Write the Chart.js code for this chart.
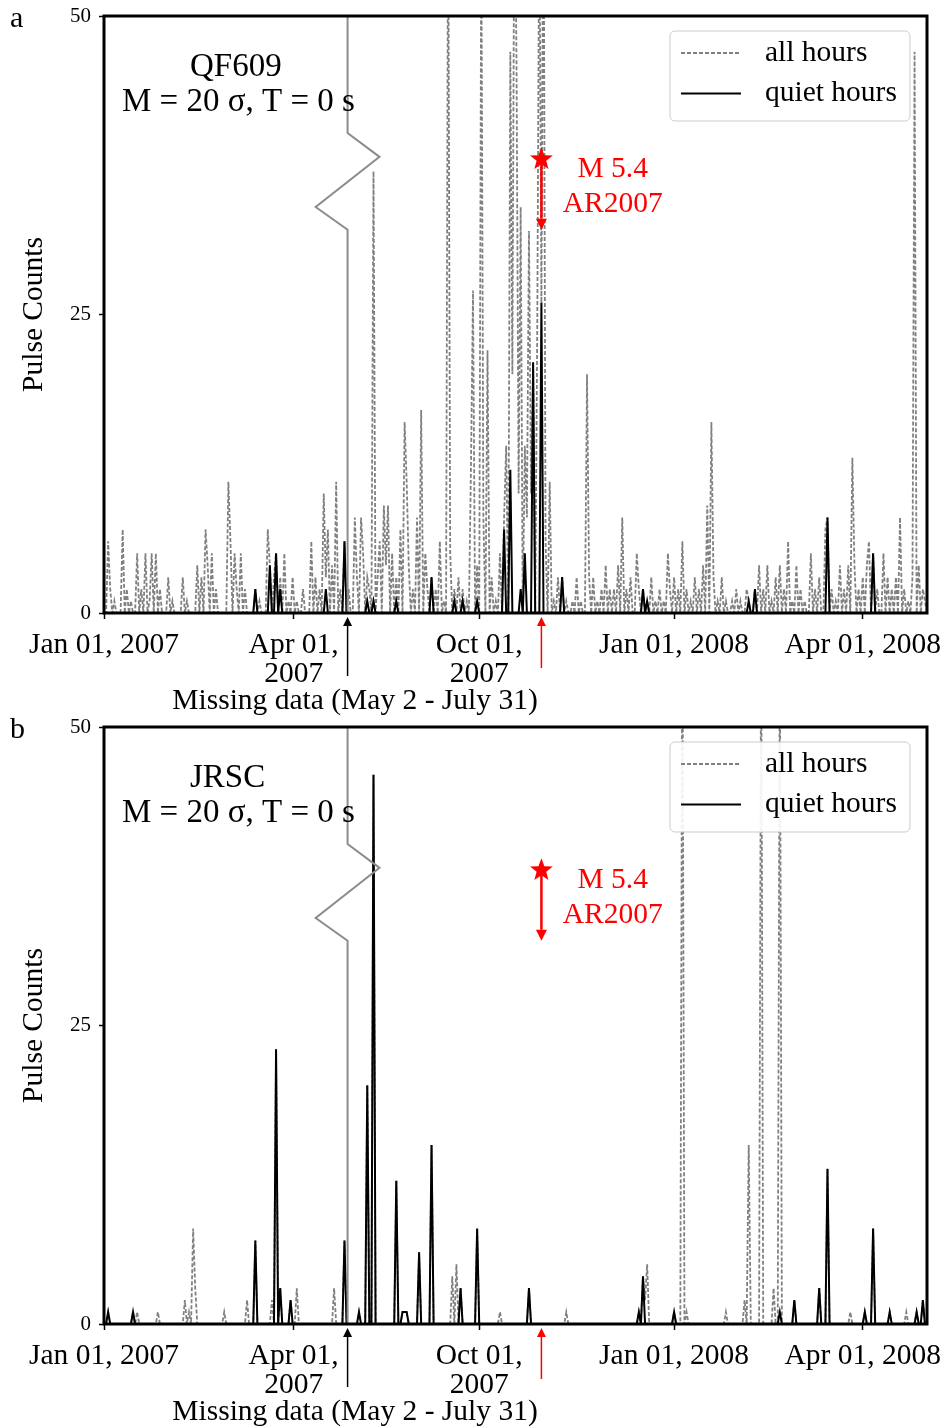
<!DOCTYPE html>
<html>
<head>
<meta charset="utf-8">
<script src="https://cdn.jsdelivr.net/npm/chart.js@4.4.1/dist/chart.umd.min.js"></script>
<style>
  html, body { margin: 0; padding: 0; background: #fff; }
  #wrap { position: relative; width: 945px; height: 1428px; }
  canvas { position: absolute; left: 0; }
  #chartA { top: 0; }
  #chartB { top: 711px; }
</style>
</head>
<body>
<div id="wrap">
  <canvas id="chartA" width="945" height="717"></canvas>
  <canvas id="chartB" width="945" height="717"></canvas>
</div>
<script>
// x axis is "days since Jan 01, 2007" with the missing stretch (May 2 - July 31) cut out
const tickDays = [0, 91.5, 181, 275, 366];
const tickLabels = [["Jan 01, 2007"], ["Apr 01,", "2007"], ["Oct 01,", "2007"], ["Jan 01, 2008"], ["Apr 01, 2008"]];
const yTicks = [0, 25, 50];
const seriesNames = ["all hours", "quiet hours"];
const lastDay = 397;

// panel a: QF609
const qfAllDays = [2, 3, 5, 9, 11, 13, 16, 18, 20, 22, 23, 25, 27, 31, 33, 38, 40, 45, 47, 49,
  50, 52, 54, 60, 61, 63, 64, 66, 68, 73, 75, 79, 80, 82, 83, 85, 87, 89, 91, 93,
  96, 100, 102, 104, 106, 107, 108, 110, 112, 114, 116, 118, 121, 122, 124, 125, 127, 128, 130, 132,
  133, 135, 136, 137, 139, 141, 143, 145, 146, 147, 149, 151, 153, 155, 156, 158, 160, 162, 164, 166,
  167, 169, 171, 173, 175, 177, 178, 180, 182, 183, 185, 187, 189, 191, 193, 194, 196, 197, 198, 199,
  200, 201, 203, 204, 205, 206, 207, 209, 210, 211, 212, 213, 215, 217, 219, 221, 223, 226, 228, 230,
  233, 234, 236, 238, 240, 242, 244, 246, 248, 250, 252, 254, 257, 258, 260, 262, 264, 266, 268, 270,
  272, 273, 275, 277, 279, 281, 283, 285, 287, 289, 291, 293, 294, 296, 298, 300, 303, 305, 307, 310,
  311, 314, 316, 318, 320, 322, 324, 326, 328, 330, 332, 334, 336, 338, 341, 343, 345, 348, 349, 351,
  353, 355, 357, 359, 361, 362, 364, 366, 368, 369, 371, 373, 376, 378, 380, 382, 384, 386, 388, 390,
  391, 393, 395, 396];
const qfAllCounts = [6, 2, 1, 7, 2, 1, 5, 2, 5, 1, 5, 5, 2, 3, 1, 3, 1, 4, 3, 7,
  4, 5, 2, 11, 6, 5, 2, 5, 2, 2, 1, 7, 4, 3, 5, 3, 5, 1, 3, 1,
  2, 6, 3, 2, 10, 3, 7, 4, 11, 2, 6, 2, 8, 3, 8, 5, 3, 2, 37, 3,
  6, 9, 4, 9, 5, 3, 7, 16, 11, 4, 2, 8, 17, 5, 2, 3, 2, 6, 1, 62,
  5, 2, 3, 2, 1, 12, 27, 4, 58, 8, 22, 3, 1, 5, 8, 14, 47, 20, 64, 46,
  10, 34, 14, 8, 32, 10, 21, 24, 60, 26, 66, 6, 11, 1, 3, 3, 1, 1, 3, 1,
  20, 3, 3, 1, 2, 4, 2, 2, 4, 8, 2, 3, 5, 2, 2, 1, 3, 1, 2, 1,
  5, 2, 3, 2, 6, 2, 1, 3, 2, 4, 9, 16, 3, 1, 3, 1, 1, 2, 1, 2,
  1, 2, 4, 2, 4, 1, 3, 4, 2, 6, 1, 4, 2, 1, 5, 2, 3, 7, 8, 2,
  1, 4, 2, 4, 13, 4, 2, 3, 4, 6, 5, 2, 5, 3, 2, 3, 8, 2, 1, 3,
  47, 4, 2, 1];
const qfQuietDays = [73, 80, 83, 85, 107, 116, 127, 130, 141, 158, 169, 173, 180, 193, 196, 201, 203, 207, 211, 221,
  260, 262, 311, 314, 349, 371];
const qfQuietCounts = [2, 4, 5, 2, 2, 6, 1, 1, 1, 3, 1, 1, 1, 7, 12, 2, 5, 21, 26, 3,
  2, 1, 1, 2, 8, 5];

// panel b: JRSC
const jrAllDays = [2, 14, 16, 26, 39, 41, 43, 44, 58, 69, 73, 81, 83, 85, 90, 93, 111, 116, 123, 127,
  130, 141, 144, 145, 146, 152, 158, 168, 170, 172, 180, 191, 205, 223, 258, 260, 261, 262, 275, 279,
  281, 300, 309, 311, 317, 323, 326, 333, 345, 349, 360, 367, 371, 379, 387, 392, 395];
const jrAllCounts = [1, 1, 1, 1, 2, 1, 8, 3, 1, 2, 7, 2, 23, 3, 2, 3, 3, 7, 1, 20,
  46, 12, 1, 1, 1, 6, 15, 4, 5, 3, 8, 1, 3, 1, 1, 4, 2, 5, 1, 62,
  1, 1, 2, 15, 60, 3, 58, 2, 3, 13, 1, 1, 8, 1, 1, 1, 2];
const jrQuietDays = [2, 14, 73, 83, 85, 90, 116, 123, 127, 130, 141, 144, 145, 146, 152, 158, 172, 180, 205, 258,
  260, 275, 326, 333, 345, 349, 367, 371, 379, 392, 395];
const jrQuietCounts = [1, 1, 7, 23, 3, 2, 7, 1, 20, 46, 12, 1, 1, 1, 6, 15, 3, 8, 3, 1,
  4, 1, 1, 2, 3, 13, 1, 8, 1, 1, 2];

const gapDay = 117.5;    // where the missing-data stretch was cut out
const quakeDay = 211;    // M 5.4 event
const serif = '"Liberation Serif", "Times New Roman", serif';

// days without a pulse are zero counts
function daily(days, counts) {
  const pts = [];
  for (let d = 0; d <= lastDay; d++) {
    const i = days.indexOf(d);
    pts.push({ x: d, y: i >= 0 ? counts[i] : 0 });
  }
  return pts;
}

function star(ctx, cx, cy, r) {
  ctx.beginPath();
  for (let i = 0; i < 10; i++) {
    const rr = i % 2 ? r * 0.42 : r;
    const ang = -Math.PI / 2 + i * Math.PI / 5;
    ctx.lineTo(cx + rr * Math.cos(ang), cy + rr * Math.sin(ang));
  }
  ctx.closePath();
  ctx.fill();
}

// line from y0 to y1 with the head at y1
function arrow(ctx, x, y0, y1, head) {
  const dir = Math.sign(y1 - y0);
  ctx.beginPath();
  ctx.moveTo(x, y0);
  ctx.lineTo(x, y1 - dir * head);
  ctx.stroke();
  ctx.beginPath();
  ctx.moveTo(x, y1);
  ctx.lineTo(x - head * 0.5, y1 - dir * head);
  ctx.lineTo(x + head * 0.5, y1 - dir * head);
  ctx.closePath();
  ctx.fill();
}

const panelMarks = {
  id: "panelMarks",
  afterDatasetsDraw(chart, args, opts) {
    const { ctx, chartArea: a, scales: { x, y } } = chart;
    ctx.save();

    // axis break
    const gx = x.getPixelForValue(gapDay);
    ctx.strokeStyle = "#8c8c8c";
    ctx.lineWidth = 2;
    ctx.beginPath();
    ctx.moveTo(gx, a.top);
    ctx.lineTo(gx, y.getPixelForValue(40.2));
    ctx.lineTo(x.getPixelForValue(gapDay + 15.4), y.getPixelForValue(38.2));
    ctx.lineTo(x.getPixelForValue(gapDay - 15.4), y.getPixelForValue(34));
    ctx.lineTo(gx, y.getPixelForValue(32.1));
    ctx.lineTo(gx, a.bottom);
    ctx.stroke();

    // earthquake marker
    const qx = x.getPixelForValue(quakeDay);
    ctx.strokeStyle = ctx.fillStyle = "#ff0000";
    ctx.lineWidth = 2.5;
    arrow(ctx, qx, y.getPixelForValue(38), y.getPixelForValue(32.1), 11);
    star(ctx, qx, y.getPixelForValue(38), 12);
    ctx.font = "29.5px " + serif;
    ctx.textAlign = "center";
    ctx.textBaseline = "alphabetic";
    ctx.fillText("M 5.4", x.getPixelForValue(245.4), y.getPixelForValue(36.5));
    ctx.fillText("AR2007", x.getPixelForValue(245.4), y.getPixelForValue(33.6));

    // frame
    ctx.strokeStyle = "#000";
    ctx.lineWidth = 3;
    ctx.strokeRect(a.left, a.top, a.right - a.left, a.bottom - a.top);

    // station text
    ctx.fillStyle = "#000";
    ctx.textAlign = "left";
    ctx.font = "33px " + serif;
    ctx.fillText(opts.station, 190, a.top + 60);
    ctx.fillText("M = 20 \u03c3, T = 0 s", 122, a.top + 95);

    // legend
    const lx = a.left + 566, ly = a.top + 15;
    ctx.beginPath();
    ctx.roundRect(lx, ly, 240, 90, 5);
    ctx.fillStyle = "rgba(255,255,255,0.9)";
    ctx.fill();
    ctx.strokeStyle = "#cccccc";
    ctx.lineWidth = 1;
    ctx.stroke();
    ctx.font = "29.5px " + serif;
    ctx.textBaseline = "middle";
    chart.data.datasets.forEach((ds, i) => {
      const rowY = ly + 22 + i * 40.5;
      ctx.strokeStyle = ds.borderColor;
      ctx.lineWidth = ds.borderWidth;
      ctx.setLineDash(ds.borderDash || []);
      ctx.beginPath();
      ctx.moveTo(lx + 11, rowY);
      ctx.lineTo(lx + 71, rowY);
      ctx.stroke();
      ctx.setLineDash([]);
      ctx.fillStyle = "#000";
      ctx.fillText(ds.label, lx + 95, rowY);
    });
    ctx.restore();
  },
  afterDraw(chart, args, opts) {
    const { ctx, chartArea: a, scales: { x } } = chart;
    ctx.save();
    ctx.lineWidth = 1.5;
    ctx.strokeStyle = ctx.fillStyle = "#000";
    arrow(ctx, x.getPixelForValue(gapDay), a.bottom + 63, a.bottom + 4, 9);
    ctx.strokeStyle = ctx.fillStyle = "#ff0000";
    arrow(ctx, x.getPixelForValue(quakeDay), a.bottom + 55, a.bottom + 4, 9);

    ctx.fillStyle = "#000";
    ctx.font = "29.5px " + serif;
    ctx.textAlign = "center";
    ctx.textBaseline = "alphabetic";
    ctx.fillText("Missing data (May 2 - July 31)", a.left + 251, a.bottom + 96);

    ctx.textAlign = "left";
    ctx.font = "30px " + serif;
    ctx.fillText(opts.letter, 10, 27);
    ctx.restore();
  }
};

function makePanel(canvasId, letter, station, allDays, allCounts, quietDays, quietCounts) {
  const ctx = document.getElementById(canvasId).getContext("2d");
  return new Chart(ctx, {
    type: "line",
    data: {
      datasets: [
        {
          label: seriesNames[0],
          data: daily(allDays, allCounts),
          borderColor: "#808080",
          borderWidth: 1.8,
          borderDash: [4, 2],
          pointRadius: 0,
          tension: 0,
          order: 2
        },
        {
          label: seriesNames[1],
          data: daily(quietDays, quietCounts),
          borderColor: "#000000",
          borderWidth: 2,
          pointRadius: 0,
          tension: 0,
          order: 1
        }
      ]
    },
    options: {
      responsive: false,
      animation: false,
      devicePixelRatio: 1,
      layout: { padding: { top: 16, right: 18, left: 0, bottom: 0 } },
      plugins: {
        legend: { display: false },
        tooltip: { enabled: false },
        panelMarks: { letter: letter, station: station }
      },
      scales: {
        x: {
          type: "linear",
          min: 0,
          max: lastDay,
          afterBuildTicks: s => { s.ticks = tickDays.map(v => ({ value: v })); },
          afterFit: s => { s.height = 104; s.paddingLeft = 0; s.paddingRight = 0; },
          border: { display: false },
          grid: { drawOnChartArea: false, drawTicks: true, tickLength: 6, tickColor: "#000", tickWidth: 1.5 },
          ticks: {
            autoSkip: false,
            maxRotation: 0,
            padding: 11,
            color: "#000",
            font: { family: serif, size: 29.5, lineHeight: 1.0 },
            callback: (v, i) => tickLabels[i]
          }
        },
        y: {
          min: 0,
          max: 50,
          afterBuildTicks: s => { s.ticks = yTicks.map(v => ({ value: v })); },
          afterFit: s => { s.width = 104; s.paddingTop = 0; s.paddingBottom = 0; },
          border: { display: false },
          grid: { drawOnChartArea: false, drawTicks: true, tickLength: 5, tickColor: "#000", tickWidth: 1.5 },
          ticks: { padding: 8, color: "#000", font: { family: serif, size: 21 } },
          title: {
            display: true,
            text: "Pulse Counts",
            color: "#000",
            font: { family: serif, size: 29.5 },
            padding: { top: 17 }
          }
        }
      }
    },
    plugins: [panelMarks]
  });
}

makePanel("chartA", "a", "QF609", qfAllDays, qfAllCounts, qfQuietDays, qfQuietCounts);
makePanel("chartB", "b", "JRSC", jrAllDays, jrAllCounts, jrQuietDays, jrQuietCounts);
</script>
</body>
</html>
